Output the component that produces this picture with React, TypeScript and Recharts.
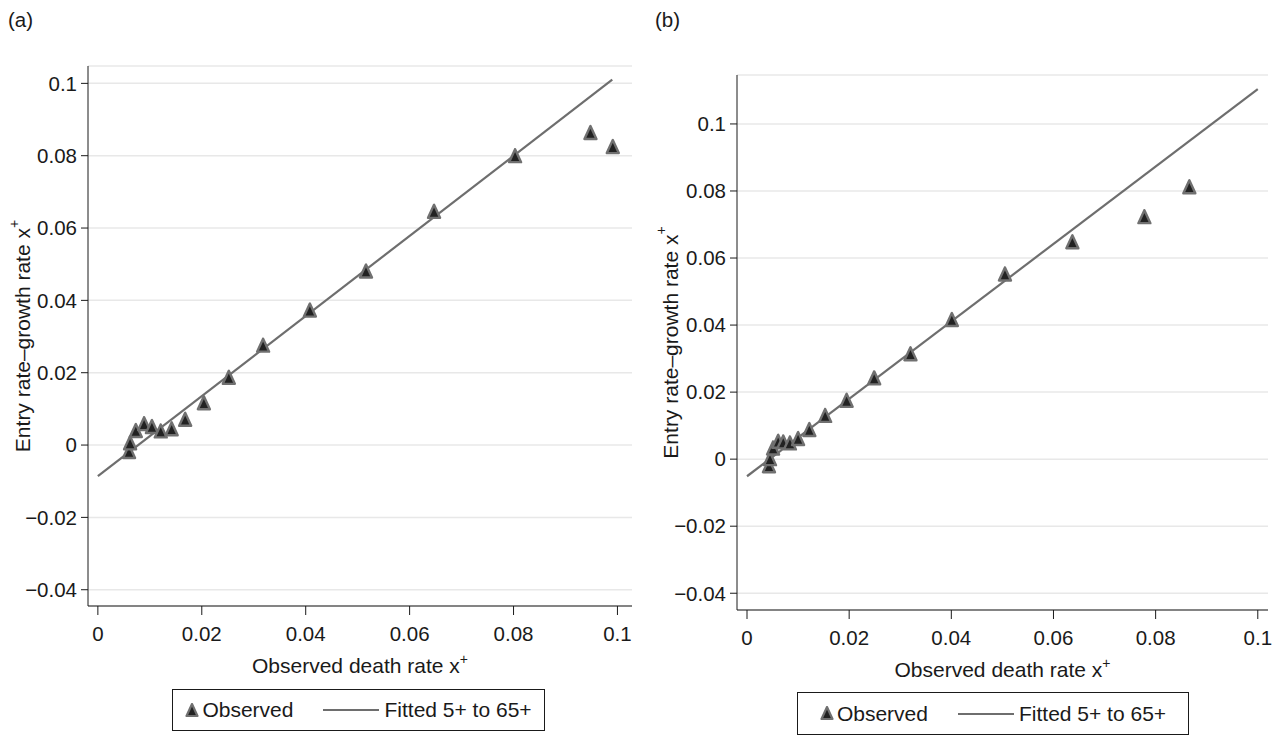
import { ScatterChart, Scatter, XAxis, YAxis, CartesianGrid, Label } from "recharts";

// panel (a): observed points and fitted line
const obsAX = [0.0060, 0.0062, 0.0073, 0.0089, 0.0104, 0.0121, 0.0142, 0.0168, 0.0204, 0.0252, 0.0318, 0.0408, 0.0516, 0.0647, 0.0803, 0.0948, 0.0991];
const obsAY = [-0.0022, 0.0002, 0.0036, 0.0055, 0.0047, 0.0035, 0.0041, 0.0067, 0.0113, 0.0183, 0.0272, 0.0369, 0.0477, 0.0642, 0.0796, 0.0860, 0.0821];
const fitAX = [0, 0.099];
const fitAY = [-0.0086, 0.1010];

// panel (b)
const obsBX = [0.0043, 0.0045, 0.0051, 0.0061, 0.0071, 0.0084, 0.0100, 0.0122, 0.0153, 0.0195, 0.0249, 0.0320, 0.0401, 0.0505, 0.0637, 0.0778, 0.0866];
const obsBY = [-0.0024, -0.0003, 0.0029, 0.0049, 0.0047, 0.0044, 0.0057, 0.0084, 0.0126, 0.0171, 0.0238, 0.0310, 0.0412, 0.0548, 0.0644, 0.0719, 0.0808];
const fitBX = [0, 0.1];
const fitBY = [-0.0051, 0.1104];

const xTicks = [0, 0.02, 0.04, 0.06, 0.08, 0.1];
const yTicks = [-0.04, -0.02, 0, 0.02, 0.04, 0.06, 0.08, 0.1];

const FONT = "'Liberation Sans', Arial, sans-serif";
const INK = "#1a1a1a";
const MARK_STROKE = "#707070";
const LINE = "#6e6e6e";

const zip = (xs: number[], ys: number[]) => xs.map((x, i) => ({ x, y: ys[i] }));

const fmt = (v: number) => (v === 0 ? "0" : v < 0 ? "\u2212" + String(Math.abs(v)) : String(v));

const Triangle = (props: any) => {
    const { cx, cy } = props;
    if (cx == null || cy == null) return null;
    return (
        <path
            d={`M${cx},${cy - 8} L${cx - 6},${cy + 5} L${cx + 6},${cy + 5} Z`}
            fill="#222"
            stroke={MARK_STROKE}
            strokeWidth={2.4}
            strokeLinejoin="round"
        />
    );
};

const NoDot = () => null;

const XTitle = (props: any) => {
    const { x, y, width } = props.viewBox;
    return (
        <text x={x + width / 2} y={y + 67} textAnchor="middle" fontSize={21} fill={INK} fontFamily={FONT}>
            Observed death rate x<tspan dy={-9} fontSize={14}>+</tspan>
        </text>
    );
};

const YTitle = (props: any) => {
    const { y, height } = props.viewBox;
    const cx = props.tx;
    const cy = y + height / 2;
    return (
        <text
            x={cx}
            y={cy}
            transform={`rotate(-90, ${cx}, ${cy})`}
            textAnchor="middle"
            dominantBaseline="central"
            fontSize={21}
            fill={INK}
            fontFamily={FONT}
        >
            Entry rate–growth rate x<tspan dy={-9} fontSize={14}>+</tspan>
        </text>
    );
};

interface PanelProps {
    obs: { x: number; y: number }[];
    fit: { x: number; y: number }[];
    xDomain: [number, number];
    yDomain: [number, number];
    width: number;
    margin: { top: number; right: number; bottom: number; left: number };
    titleX: number;
}

const Panel = ({ obs, fit, xDomain, yDomain, width, margin, titleX }: PanelProps) => (
    <ScatterChart width={width} height={700} margin={margin}>
        <CartesianGrid horizontal vertical={false} stroke="#e8e8e8" strokeWidth={1.5} />
        <XAxis
            type="number"
            dataKey="x"
            domain={xDomain}
            ticks={xTicks}
            allowDataOverflow
            tickFormatter={fmt}
            height={30}
            tickSize={9}
            tickMargin={11}
            stroke={INK}
            tick={{ fill: INK, fontSize: 20.5, fontFamily: FONT }}
        >
            <Label content={(p: any) => <XTitle {...p} />} />
        </XAxis>
        <YAxis
            type="number"
            dataKey="y"
            domain={yDomain}
            ticks={yTicks}
            allowDataOverflow
            tickFormatter={fmt}
            width={70}
            tickSize={7}
            tickMargin={4}
            stroke={INK}
            tick={{ fill: INK, fontSize: 20.5, fontFamily: FONT }}
        >
            <Label content={(p: any) => <YTitle {...p} tx={titleX} />} />
        </YAxis>
        <Scatter data={fit} line={{ stroke: LINE, strokeWidth: 2.2 }} shape={NoDot} isAnimationActive={false} />
        <Scatter data={obs} shape={Triangle} isAnimationActive={false} />
    </ScatterChart>
);

const LegendBox = ({ left, top, width, height }: { left: number; top: number; width: number; height: number }) => (
    <div
        style={{
            position: "absolute",
            left,
            top,
            width,
            height,
            boxSizing: "border-box",
            border: `1px solid ${INK}`,
            display: "flex",
            alignItems: "center",
            justifyContent: "center",
            fontFamily: FONT,
            fontSize: 21,
            color: INK,
        }}
    >
        <svg width={14} height={15} style={{ marginRight: 3 }}>
            <path d="M7,1 L1.5,13 L12.5,13 Z" fill="#222" stroke={MARK_STROKE} strokeWidth={2.2} strokeLinejoin="round" />
        </svg>
        <span>Observed</span>
        <svg width={56} height={4} style={{ marginLeft: 30, marginRight: 5 }}>
            <line x1={0} y1={2} x2={56} y2={2} stroke={LINE} strokeWidth={2.2} />
        </svg>
        <span>Fitted 5+ to 65+</span>
    </div>
);

export default function App() {
    return (
        <div style={{ position: "absolute", left: 0, top: 0, width: 1283, height: 735, background: "#fff", overflow: "hidden" }}>
            <div style={{ position: "absolute", left: 8, top: 8, fontFamily: FONT, fontSize: 20.5, color: INK }}>(a)</div>
            <div style={{ position: "absolute", left: 655, top: 8, fontFamily: FONT, fontSize: 20.5, color: INK }}>(b)</div>
            <div style={{ position: "absolute", left: 0, top: 0 }}>
                <Panel
                    obs={zip(obsAX, obsAY)}
                    fit={zip(fitAX, fitAY)}
                    xDomain={[-0.0019, 0.1028]}
                    yDomain={[-0.0445, 0.1048]}
                    width={650}
                    margin={{ top: 66, right: 18, bottom: 64, left: 18 }}
                    titleX={22.5}
                />
            </div>
            <div style={{ position: "absolute", left: 650, top: 0 }}>
                <Panel
                    obs={zip(obsBX, obsBY)}
                    fit={zip(fitBX, fitBY)}
                    xDomain={[-0.00196, 0.102]}
                    yDomain={[-0.045, 0.1146]}
                    width={633}
                    margin={{ top: 75, right: 15, bottom: 60, left: 17 }}
                    titleX={20}
                />
            </div>
            <LegendBox left={172} top={689} width={373} height={42} />
            <LegendBox left={797} top={692} width={392} height={43} />
        </div>
    );
}
